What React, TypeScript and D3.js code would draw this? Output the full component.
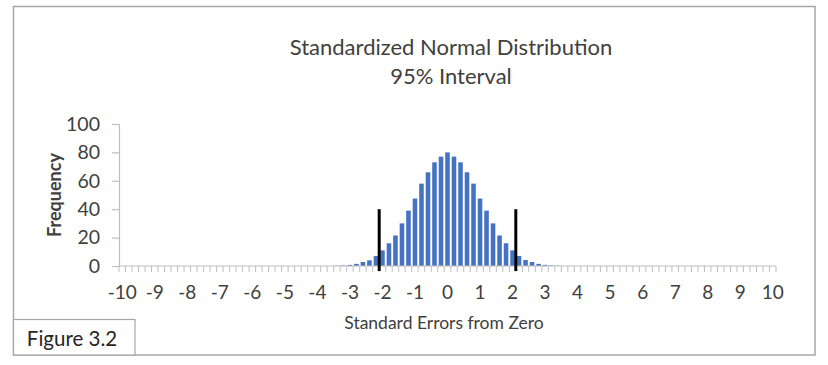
import React, { useEffect, useRef } from 'react';
import * as d3 from 'd3';

// category positions: -10 to 10 in steps of 0.2 (standard errors)
const categories: number[] = d3.range(-50, 51).map(i => +(i / 5).toFixed(1));

// frequency, left tail .. centre .. right tail
const tailZeros = Array(33).fill(0);
const leftSide = [0.2, 0.4, 0.8, 1.5, 2.8, 4, 7, 11, 16, 21.5, 30, 39, 47.5, 58, 66, 73, 77];
const peak = [80];
const rightSide = [77, 73, 66, 58, 47.5, 39, 30, 21.5, 16, 11, 7, 4.2, 2.8, 1.5, 0.8, 0.4, 0.2];
const frequency: number[] = [...tailZeros, ...leftSide, ...peak, ...rightSide, ...tailZeros];

const yTicks = [0, 20, 40, 60, 80, 100];
const xLabels = [-10, -9, -8, -7, -6, -5, -4, -3, -2, -1, 0, 1, 2, 3, 4, 5, 6, 7, 8, 9, 10];

// 95% interval markers
const intervalLines = [-2.1, 2.1];
const intervalHeight = 40;

const FONT = 'Lato, "Open Sans", sans-serif';

const App: React.FC = () => {
  const svgRef = useRef<SVGSVGElement>(null);

  useEffect(() => {
    if (!svgRef.current) return;
    const svg = d3.select(svgRef.current);
    svg.selectAll('*').remove();

    const W = 828;
    const H = 365;
    const plot = { left: 119, right: 776, top: 124, bottom: 266 };

    // outer frame
    svg.append('rect')
      .attr('x', 13.5).attr('y', 6.5)
      .attr('width', 801.5).attr('height', 348.5)
      .attr('fill', '#fff')
      .attr('stroke', '#a6a6a6')
      .attr('stroke-width', 1.5);

    // title
    const title = svg.append('text')
      .attr('text-anchor', 'middle')
      .attr('font-family', FONT)
      .attr('font-size', 22)
      .attr('fill', '#404040');
    title.append('tspan').attr('x', 451).attr('y', 55).text('Standardized Normal Distribution');
    title.append('tspan').attr('x', 451).attr('y', 84).text('95% Interval');

    const x = d3.scaleBand<number>()
      .domain(categories)
      .range([plot.left, plot.right])
      .paddingInner(0.3)
      .paddingOuter(0.15);

    const step = (plot.right - plot.left) / categories.length;
    const xLin = d3.scaleLinear()
      .domain([-10, 10])
      .range([plot.left + step / 2, plot.right - step / 2]);

    const y = d3.scaleLinear().domain([0, 100]).range([plot.bottom, plot.top]);

    // y axis
    const yAxis = svg.append('g')
      .attr('transform', `translate(${plot.left},0)`)
      .call(d3.axisLeft(y).tickValues(yTicks).tickSize(7).tickPadding(12));
    yAxis.select('.domain').attr('stroke', '#bfbfbf').attr('stroke-width', 1.2);
    yAxis.selectAll('.tick line').attr('stroke', '#bfbfbf').attr('stroke-width', 1.2);
    yAxis.selectAll('.tick text')
      .attr('font-family', FONT).attr('font-size', 19.5).attr('fill', '#404040');

    // bars
    svg.append('g')
      .selectAll('rect')
      .data(categories)
      .join('rect')
      .attr('x', (d) => x(d)!)
      .attr('width', x.bandwidth())
      .attr('y', (d, i) => y(frequency[i]))
      .attr('height', (d, i) => plot.bottom - y(frequency[i]))
      .attr('fill', '#4472c4');

    // x axis: line + category boundary ticks
    const xAxis = svg.append('g');
    xAxis.append('line')
      .attr('x1', plot.left).attr('x2', plot.right)
      .attr('y1', plot.bottom).attr('y2', plot.bottom)
      .attr('stroke', '#bfbfbf').attr('stroke-width', 1.2);
    xAxis.selectAll('line.tick')
      .data(d3.range(categories.length + 1))
      .join('line')
      .attr('class', 'tick')
      .attr('x1', (i) => plot.left + i * step)
      .attr('x2', (i) => plot.left + i * step)
      .attr('y1', plot.bottom)
      .attr('y2', plot.bottom + 6)
      .attr('stroke', '#bfbfbf').attr('stroke-width', 1);
    xAxis.selectAll('text')
      .data(xLabels)
      .join('text')
      .attr('x', (d) => xLin(d))
      .attr('y', plot.bottom + 33)
      .attr('text-anchor', 'middle')
      .attr('font-family', FONT).attr('font-size', 19).attr('fill', '#404040')
      .text((d) => String(d));

    // interval lines
    svg.append('g')
      .selectAll('line')
      .data(intervalLines)
      .join('line')
      .attr('x1', (d) => xLin(d)).attr('x2', (d) => xLin(d))
      .attr('y1', plot.bottom + 5)
      .attr('y2', y(intervalHeight))
      .attr('stroke', '#000')
      .attr('stroke-width', 3);

    // axis titles
    svg.append('text')
      .attr('x', 444).attr('y', 329)
      .attr('text-anchor', 'middle')
      .attr('font-family', FONT).attr('font-size', 17.5).attr('fill', '#404040')
      .text('Standard Errors from Zero');

    svg.append('text')
      .attr('transform', `translate(61,${(plot.top + plot.bottom) / 2}) rotate(-90)`)
      .attr('text-anchor', 'middle')
      .attr('font-family', FONT).attr('font-size', 18).attr('font-weight', 'bold')
      .attr('fill', '#404040')
      .text('Frequency');

    // figure label box
    svg.append('rect')
      .attr('x', 13.5).attr('y', 319.5)
      .attr('width', 121.5).attr('height', 35.5)
      .attr('fill', '#fff')
      .attr('stroke', '#a6a6a6').attr('stroke-width', 1.2);
    svg.append('text')
      .attr('x', 72).attr('y', 346)
      .attr('text-anchor', 'middle')
      .attr('font-family', FONT).attr('font-size', 20.5).attr('fill', '#262626')
      .text('Figure 3.2');

    svg.attr('width', W).attr('height', H);
  }, []);

  return (
    <svg
      ref={svgRef}
      width={828}
      height={365}
      style={{ position: 'absolute', left: 0, top: 0, display: 'block', background: '#fff' }}
    />
  );
};

export default App;
